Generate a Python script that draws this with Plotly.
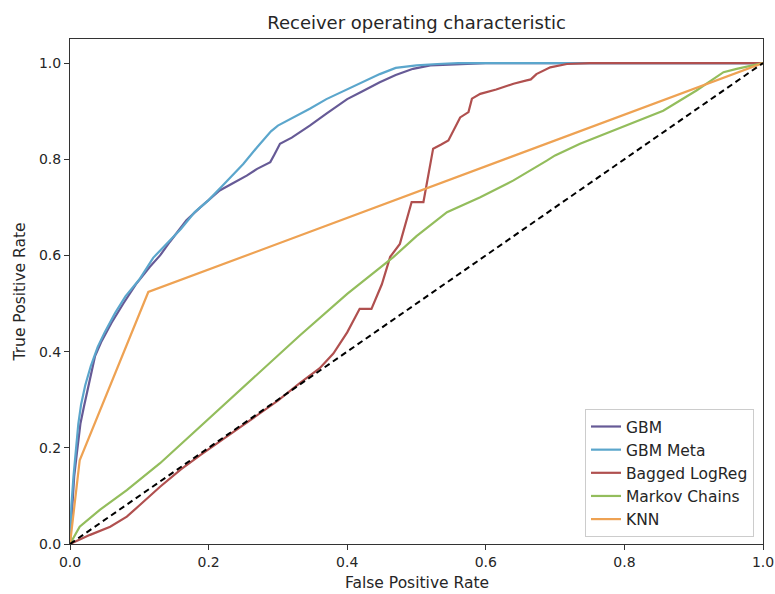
import plotly.graph_objects as go

# ---- data ----
gbm_fpr = [0, 0.003, 0.006, 0.01, 0.015, 0.02, 0.027, 0.036, 0.045, 0.06, 0.077, 0.095, 0.115, 0.13,
           0.144, 0.168, 0.188, 0.2, 0.216, 0.235, 0.255, 0.27, 0.289, 0.295, 0.303, 0.32, 0.346,
           0.37, 0.4, 0.42, 0.447, 0.47, 0.495, 0.52, 0.558, 0.6, 1.0]
gbm_tpr = [0, 0.08, 0.14, 0.19, 0.25, 0.285, 0.33, 0.39, 0.42, 0.46, 0.50, 0.54, 0.576, 0.60,
           0.628, 0.673, 0.70, 0.715, 0.735, 0.75, 0.766, 0.78, 0.794, 0.81, 0.832, 0.845, 0.87,
           0.895, 0.925, 0.94, 0.96, 0.975, 0.988, 0.995, 0.998, 1.0, 1.0]

meta_fpr = [0, 0.002, 0.005, 0.008, 0.012, 0.016, 0.022, 0.03, 0.04, 0.05, 0.065, 0.08, 0.1, 0.12,
            0.14, 0.16, 0.18, 0.2, 0.22, 0.25, 0.27, 0.29, 0.3, 0.32, 0.346, 0.37, 0.4, 0.42,
            0.447, 0.47, 0.5, 0.53, 0.56, 1.0]
meta_tpr = [0, 0.08, 0.14, 0.19, 0.25, 0.29, 0.33, 0.37, 0.41, 0.44, 0.48, 0.515, 0.55, 0.595,
            0.625, 0.655, 0.69, 0.715, 0.745, 0.79, 0.825, 0.858, 0.87, 0.885, 0.905, 0.925, 0.945, 0.96,
            0.977, 0.99, 0.995, 0.998, 1.0, 1.0]

logreg_fpr = [0, 0.029, 0.058, 0.082, 0.1, 0.13, 0.16, 0.188, 0.22, 0.26, 0.3, 0.332, 0.36, 0.38,
              0.4, 0.418, 0.435, 0.45, 0.462, 0.476, 0.493, 0.51, 0.524, 0.535, 0.546, 0.563, 0.575,
              0.58, 0.592, 0.615, 0.64, 0.659, 0.665, 0.673, 0.693, 0.717, 0.75, 1.0]
logreg_tpr = [0, 0.019, 0.036, 0.057, 0.08, 0.119, 0.155, 0.185, 0.217, 0.257, 0.298, 0.335, 0.365, 0.396,
              0.44, 0.489, 0.489, 0.54, 0.597, 0.624, 0.711, 0.711, 0.822, 0.83, 0.839, 0.887, 0.898,
              0.926, 0.936, 0.945, 0.957, 0.964, 0.966, 0.977, 0.991, 0.998, 1.0, 1.0]

markov_fpr = [0, 0.014, 0.043, 0.082, 0.13, 0.2, 0.25, 0.3, 0.332, 0.4, 0.467, 0.5, 0.544, 0.592,
              0.64, 0.688, 0.7, 0.736, 0.784, 0.808, 0.856, 0.904, 0.943, 0.962, 1.0]
markov_tpr = [0, 0.036, 0.071, 0.112, 0.168, 0.26, 0.325, 0.39, 0.434, 0.52, 0.597, 0.64, 0.69, 0.721,
              0.756, 0.797, 0.808, 0.832, 0.86, 0.874, 0.901, 0.943, 0.981, 0.988, 1.0]

knn_fpr = [0, 0.014, 0.113, 1.0]
knn_tpr = [0, 0.174, 0.524, 1.0]

chance = [0, 1]

names = ["GBM", "GBM Meta", "Bagged LogReg", "Markov Chains", "KNN"]
colors = ["#665a96", "#5ba6cc", "#b0504f", "#93bd5c", "#eea253"]
series = [(gbm_fpr, gbm_tpr), (meta_fpr, meta_tpr), (logreg_fpr, logreg_tpr),
          (markov_fpr, markov_tpr), (knn_fpr, knn_tpr)]

tick_vals = [0, 0.2, 0.4, 0.6, 0.8, 1.0]
tick_text = ["0.0", "0.2", "0.4", "0.6", "0.8", "1.0"]

FONT = "DejaVu Sans"
TXT = "#262626"

fig = go.Figure()
for (xs, ys), name, col in zip(series, names, colors):
    fig.add_trace(go.Scatter(x=xs, y=ys, mode="lines", name=name, legendgroup=name,
                             line=dict(color=col, width=2.2)))
fig.add_trace(go.Scatter(x=chance, y=chance, mode="lines", showlegend=False,
                         line=dict(color="black", width=2, dash="6px,4px")))

axis_common = dict(showgrid=False, zeroline=False, showline=True, mirror=True,
                   linecolor="#333333", linewidth=1, ticks="outside", ticklen=5,
                   tickcolor="#333333", tickfont=dict(family=FONT, size=14, color=TXT),
                   tickvals=tick_vals, ticktext=tick_text, automargin=False)

fig.update_layout(
    width=775, height=594,
    margin=dict(l=70, r=12, t=39, b=50),
    paper_bgcolor="white", plot_bgcolor="white",
    title=dict(text="Receiver operating characteristic", x=0.5375, xanchor="center",
               y=1 - 23 / 594, yanchor="middle",
               font=dict(family=FONT, size=18, color=TXT)),
    xaxis=dict(range=[0, 1], **axis_common),
    yaxis=dict(range=[0, 1.05], **axis_common),
    legend=dict(x=0.987, y=0.014, xanchor="right", yanchor="bottom",
                bgcolor="rgba(255,255,255,0.85)", bordercolor="#cccccc", borderwidth=1,
                font=dict(family=FONT, size=15.5, color=TXT), tracegroupgap=0),
    showlegend=True,
    annotations=[
        dict(text="False Positive Rate", xref="paper", yref="paper",
             x=0.5, y=(544 - 583) / 505, xanchor="center", yanchor="middle",
             showarrow=False, font=dict(family=FONT, size=15.5, color=TXT)),
        dict(text="True Positive Rate", xref="paper", yref="paper",
             x=(19 - 70) / 693, y=0.5, xanchor="center", yanchor="middle", textangle=-90,
             showarrow=False, font=dict(family=FONT, size=15.5, color=TXT)),
    ],
)

fig.write_html("out.html")
